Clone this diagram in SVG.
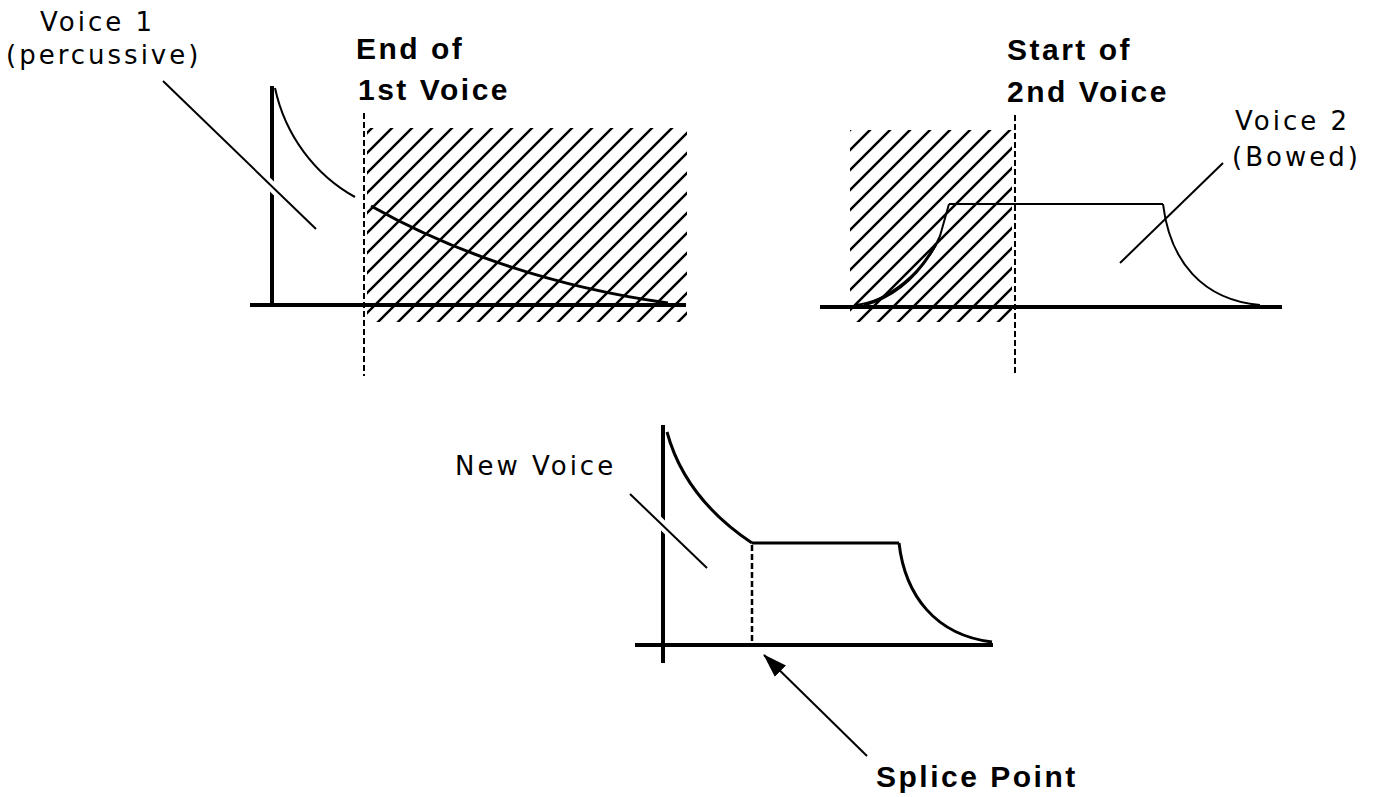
<svg xmlns="http://www.w3.org/2000/svg" width="1378" height="797" viewBox="0 0 1378 797">
<style>
.reg{font-family:"DejaVu Sans","Liberation Sans",sans-serif;font-size:26px;fill:#000;letter-spacing:3px}
.bold{font-family:"Liberation Sans",Arial,sans-serif;font-size:30px;font-weight:bold;fill:#000;letter-spacing:2.5px}
.axis{stroke:#000;stroke-width:4;fill:none}
.curve{stroke:#000;stroke-width:2;fill:none}
.thick{stroke:#000;stroke-width:3;fill:none}
.dash{stroke:#000;stroke-width:2;stroke-dasharray:6,3;fill:none}
.leader{stroke:#000;stroke-width:2;fill:none}
.halo{stroke:#fff;stroke-width:10;fill:none}
</style>
<defs>
<pattern id="hatch" patternUnits="userSpaceOnUse" width="20" height="20">
<path d="M-5,5 L5,-5 M0,20 L20,0 M15,25 L25,15" stroke="#000" stroke-width="2.5"/>
</pattern>
<marker id="arrowBig" viewBox="0 0 24 16" refX="23" refY="8" markerWidth="24" markerHeight="16" markerUnits="userSpaceOnUse" orient="auto">
<path d="M0,0 L24,8 L0,16 z" fill="#000"/>
</marker>
</defs>

<g id="panel-voice1">
<rect x="367" y="128" width="320" height="194" fill="url(#hatch)"/>
<line class="axis" x1="272" y1="86" x2="272" y2="305"/>
<line class="axis" x1="250" y1="305" x2="686" y2="305"/>
<path class="curve" d="M275,88 C285,135 315,175 355,197"/>
<path class="thick" d="M371,206 C440,245 540,285 668,303"/>
<line class="dash" x1="364" y1="113" x2="364" y2="376"/>
</g>

<g id="panel-voice2">
<rect x="850" y="130" width="162" height="192" fill="url(#hatch)"/>
<line class="axis" x1="820" y1="307" x2="1282" y2="307"/>
<path class="curve" d="M855,305 C885,303 925,272 940,236 L949,204"/>
<path class="thick" d="M864,305 C890,298 916,280 936,244"/>
<line class="curve" x1="949" y1="204" x2="1163" y2="204"/>
<path class="curve" d="M1163,204 C1170,262 1203,300 1260,305"/>
<line class="dash" x1="1015" y1="115" x2="1015" y2="376"/>
</g>

<g id="panel-new">
<line class="axis" x1="663" y1="425" x2="663" y2="663"/>
<line class="axis" x1="635" y1="645" x2="993" y2="645"/>
<path class="thick" d="M667,432 C680,480 710,515 752,543"/>
<line class="thick" x1="752" y1="543" x2="899" y2="543"/>
<path class="thick" d="M899,543 C905,595 935,635 992,642"/>
<line class="dash" style="stroke-width:2.5" x1="752" y1="545" x2="752" y2="642"/>
</g>

<g id="connectors">
<line class="halo" x1="250" y1="165" x2="296" y2="210"/>
<line class="leader" x1="163" y1="81" x2="316" y2="229"/>
<line class="leader" x1="1223" y1="163" x2="1120" y2="263"/>
<line class="halo" x1="645" y1="508" x2="682" y2="544"/>
<line class="leader" x1="630" y1="494" x2="707" y2="568"/>
<line class="leader" x1="867" y1="756" x2="764" y2="655" marker-end="url(#arrowBig)"/>
</g>

<g id="labels">
<text class="reg" x="40" y="31">Voice 1</text>
<text class="reg" x="6" y="64">(percussive)</text>
<text class="bold" x="356" y="59">End of</text>
<text class="bold" x="358" y="100">1st Voice</text>
<text class="bold" x="1007" y="60">Start of</text>
<text class="bold" x="1007" y="102">2nd Voice</text>
<text class="reg" x="1235" y="130">Voice 2</text>
<text class="reg" x="1232" y="166">(Bowed)</text>
<text class="reg" x="455" y="475">New Voice</text>
<text class="bold" x="876" y="787">Splice Point</text>
</g>
</svg>
